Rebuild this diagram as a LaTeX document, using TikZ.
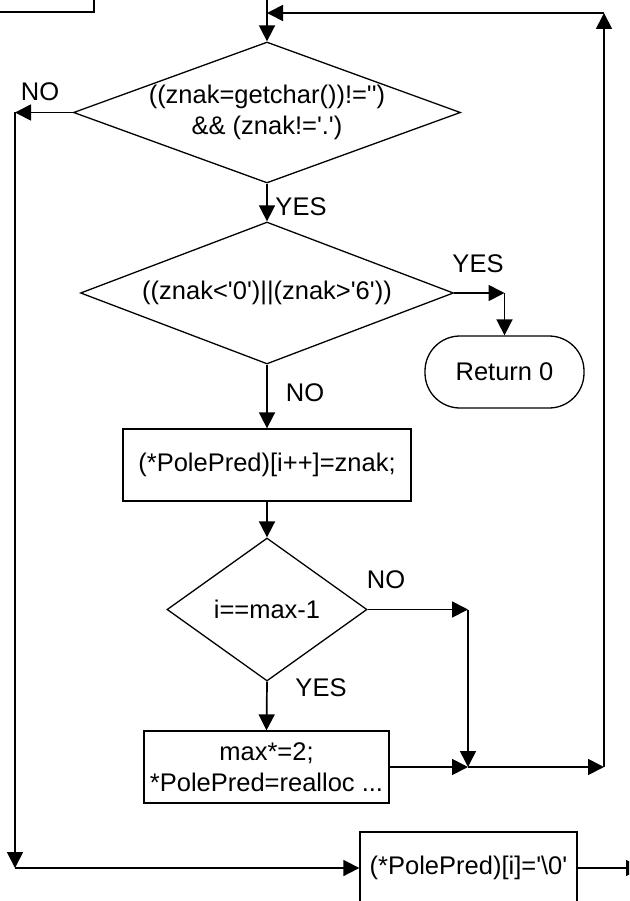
\documentclass[tikz,border=0pt]{standalone}
\usepackage{fontspec}
\setmainfont{Liberation Sans}
\usetikzlibrary{positioning,arrows.meta,shapes.geometric}

\newcommand{\sq}{\textquotesingle}

\tikzset{
  block/.style={draw, line width=1.3pt, rectangle, minimum height=72pt, inner sep=0pt, align=center},
  decision/.style={draw, line width=1.3pt, diamond, inner sep=0pt},
  terminal/.style={draw, line width=1.3pt, rectangle, rounded corners=35pt, minimum width=159pt, minimum height=72pt},
  flow/.style={line width=1.7pt, -{Triangle[length=16pt,width=16pt]}},
}

\begin{document}
\begin{tikzpicture}[x=1pt, y=-1pt, font=\fontsize{25.5}{31}\selectfont]
    \useasboundingbox (0,0) rectangle (629,901);
    \clip (0,0) rectangle (629,901);

    \node[block, minimum width=188pt] (prev) at (0,-24) {};
    \node[decision, minimum width=387pt, minimum height=141pt] (d1) at (267,112.5) {};
    \node[align=center] (d1txt) at (d1) {((znak=getchar())!=\sq\sq)\\\&\& (znak!=\sq.\sq)};
    \node[decision, minimum width=373pt, minimum height=142pt] (d2) at (267,293) {};
    \node (d2txt) at (d2) {((znak<\sq0\sq)||(znak>\sq6\sq))};
    \node[terminal] (ret) at (504.5,372) {Return 0};
    \node[block, minimum width=288pt] (p1) at (267,465) {(*PolePred)[i++]=znak;};
    \node[decision, minimum width=200pt, minimum height=143pt] (d3) at (267,609.5) {};
    \node (d3txt) at (d3) {i==max-1};
    \node[block, minimum width=245pt] (p2) at (266.5,767) {max*=2;\\{}*PolePred=realloc ...};
    \node[block, minimum width=217pt] (p3) at (468.5,868) {(*PolePred)[i]=\sq\textbackslash0\sq};

    % branch labels
    \node (no1) at (40,92) {NO};
    \node (yes1) at (301,207) {YES};
    \node (yes2) at (478,264) {YES};
    \node (no2) at (305,393) {NO};
    \node (no3) at (386,580) {NO};
    \node (yes3) at (321,688) {YES};

    \coordinate (in) at (267,-5);
    \coordinate (lt) at (15,112.5);
    \coordinate (lb) at (15,868);
    \coordinate (yc) at (504.5,293);
    \coordinate (jt) at (468,609.5);
    \coordinate (jn) at (468,767);
    \coordinate (rb) at (604,767);
    \coordinate (rt) at (604,13);
    \coordinate (mt) at (267,13);
    \coordinate (out) at (642,868);

    \draw[flow] (in) -- (d1.north);
    \draw[flow] (d1.south) -- (d2.north);
    \draw[flow] (d2.south) -- (p1.north);
    \draw[flow] (p1.south) -- (d3.north);
    \draw[flow] (d3.south) -- (p2.north);

    \draw[flow] (d1.west) -- (lt);
    \draw[flow] (lt) -- (lb);
    \draw[flow] (lb) -- (p3.west);

    \draw[flow] (d2.east) -- (yc);
    \draw[flow] (yc) -- (ret.north);

    \draw[flow] (d3.east) -- (jt);
    \draw[flow] (jt) -- (jn);
    \draw[flow] (p2.east) -- (jn);
    \draw[flow] (jn) -- (rb);
    \draw[flow] (rb) -- (rt);
    \draw[flow] (rt) -- (mt);

    \draw[flow] (p3.east) -- (out);
\end{tikzpicture}
\end{document}
